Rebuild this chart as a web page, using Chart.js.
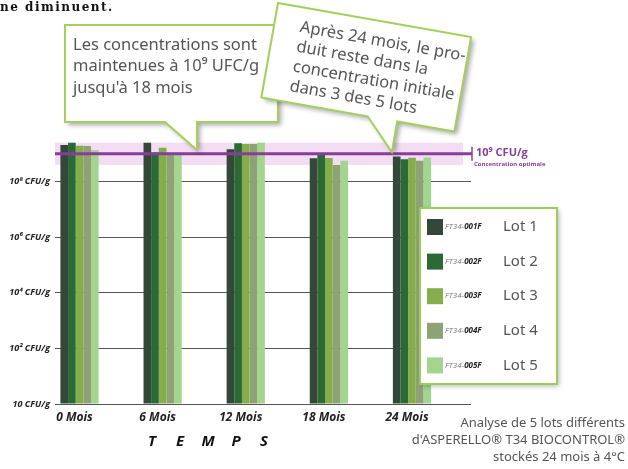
<!DOCTYPE html>
<html>
<head>
<meta charset="utf-8">
<script src="https://cdn.jsdelivr.net/npm/chart.js@4.4.0/dist/chart.umd.min.js"></script>
<style>
  html, body { margin: 0; padding: 0; background: #fff; }
  #wrap { width: 628px; height: 469px; position: relative; }
</style>
</head>
<body>
<div id="wrap"><canvas id="chart"></canvas></div>
<script>
// stability of 5 lots over time, values in log10(CFU/g)
const months = ["0 Mois", "6 Mois", "12 Mois", "18 Mois", "24 Mois"];
const lotNames = ["Lot 1", "Lot 2", "Lot 3", "Lot 4", "Lot 5"];
const lotCodes = ["001F", "002F", "003F", "004F", "005F"];
const lotColors = ["#34483a", "#2b6a34", "#86ad4c", "#8fa276", "#a3d58f"];

const lot1 = [9.32, 9.40, 9.16, 8.84, 8.90];
const lot2 = [9.40, 9.05, 9.38, 9.02, 8.80];
const lot3 = [9.29, 9.22, 9.35, 8.85, 8.86];
const lot4 = [9.28, 9.04, 9.35, 8.60, 8.75];
const lot5 = [9.14, 9.04, 9.40, 8.75, 8.87];

const yTicks = [0, 2, 4, 6, 8];
const yTickLabels = ["10 CFU/g", "10² CFU/g", "10⁴ CFU/g", "10⁶ CFU/g", "10⁸ CFU/g"];

// optimal concentration line (10^9) and its band
const optimum = 9;
const bandLow = 8.6;
const bandHigh = 9.4;

const bubbleFont = "'Noto Sans', sans-serif";

// draws a speech bubble with a tail at the bottom
function drawBubble(ctx, b) {
  ctx.save();
  ctx.translate(b.x, b.y);
  ctx.rotate(b.angle * Math.PI / 180);
  ctx.beginPath();
  ctx.moveTo(0, 0);
  ctx.lineTo(b.w, 0);
  ctx.lineTo(b.w, b.h);
  ctx.lineTo(b.tail[1], b.h);
  ctx.lineTo(b.tail[2], b.tail[3]);
  ctx.lineTo(b.tail[0], b.h);
  ctx.lineTo(0, b.h);
  ctx.closePath();
  ctx.shadowColor = "rgba(0,0,0,0.35)";
  ctx.shadowBlur = 5;
  ctx.shadowOffsetX = 3;
  ctx.shadowOffsetY = 3;
  ctx.fillStyle = "#fff";
  ctx.fill();
  ctx.shadowColor = "transparent";
  ctx.strokeStyle = "#a5cf5b";
  ctx.lineWidth = 2;
  ctx.stroke();
  ctx.fillStyle = "#555";
  ctx.font = "16.5px " + bubbleFont;
  ctx.textBaseline = "middle";
  ctx.textAlign = "left";
  b.lines.forEach((line, i) => {
    ctx.fillText(line, b.tx, b.ty + i * b.lh);
  });
  ctx.restore();
}

const extrasPlugin = {
  id: "extras",
  beforeDatasetsDraw(chart) {
    const ctx = chart.ctx;
    const y = chart.scales.y;
    const area = chart.chartArea;
    ctx.save();
    ctx.fillStyle = "rgba(226, 180, 226, 0.45)";
    const top = y.getPixelForValue(bandHigh);
    const bot = y.getPixelForValue(bandLow);
    ctx.fillRect(area.left, top, area.right - 8 - area.left, bot - top);
    ctx.restore();
  },
  afterDatasetsDraw(chart) {
    const ctx = chart.ctx;
    const y = chart.scales.y;
    const area = chart.chartArea;
    const py = y.getPixelForValue(optimum);
    ctx.save();
    // purple optimum line
    ctx.strokeStyle = "#8a3c9c";
    ctx.lineWidth = 3;
    ctx.beginPath();
    ctx.moveTo(area.left, py);
    ctx.lineTo(area.right + 1, py);
    ctx.stroke();
    ctx.lineWidth = 1.5;
    ctx.beginPath();
    ctx.moveTo(area.right + 1, py - 7);
    ctx.lineTo(area.right + 1, py + 7);
    ctx.stroke();
    ctx.fillStyle = "#8a3c9c";
    ctx.textBaseline = "middle";
    ctx.font = "bold 11px 'Open Sans', sans-serif";
    ctx.fillText("10⁹ CFU/g", area.right + 5, py - 1);
    ctx.font = "bold 6px 'Open Sans', sans-serif";
    ctx.fillText("Concentration optimale", area.right + 3, py + 10);
    ctx.restore();
  },
  afterDraw(chart) {
    const ctx = chart.ctx;
    ctx.save();

    // heading fragment at the top
    ctx.fillStyle = "#111";
    ctx.font = "bold 12px 'DejaVu Serif', serif";
    ctx.textBaseline = "middle";
    ctx.letterSpacing = "1.5px";
    ctx.fillText("ne diminuent.", 0, 8);
    ctx.letterSpacing = "0px";

    // axis title spaced letters
    ctx.font = "bold italic 15px 'Open Sans', sans-serif";
    ctx.textAlign = "center";
    ctx.fillStyle = "#111";
    "TEMPS".split("").forEach((ch, i) => {
      ctx.fillText(ch, 152 + i * 28, 442);
    });

    // footnote at bottom right
    ctx.textAlign = "right";
    ctx.fillStyle = "#555";
    ctx.font = "13px " + bubbleFont;
    ctx.fillText("Analyse de 5 lots différents", 625, 423);
    ctx.fillText("d'ASPERELLO® T34 BIOCONTROL®", 625, 440);
    ctx.fillText("stockés 24 mois à 4°C", 625, 457);

    // legend box
    const lx = 420, ly = 208, lw = 137, lh = 176;
    ctx.shadowColor = "rgba(0,0,0,0.3)";
    ctx.shadowBlur = 5;
    ctx.shadowOffsetX = 2;
    ctx.shadowOffsetY = 2;
    ctx.fillStyle = "#fff";
    ctx.fillRect(lx, ly, lw, lh);
    ctx.shadowColor = "transparent";
    ctx.strokeStyle = "#9ccd5a";
    ctx.lineWidth = 2;
    ctx.strokeRect(lx, ly, lw, lh);
    ctx.textAlign = "left";
    lotNames.forEach((name, i) => {
      const cy = 227 + i * 34.6;
      ctx.fillStyle = lotColors[i];
      ctx.fillRect(427, cy - 8, 16, 16);
      ctx.fillStyle = "#777";
      ctx.font = "italic 8px 'Open Sans', sans-serif";
      ctx.fillText("FT34-", 445, cy);
      const w = ctx.measureText("FT34-").width;
      ctx.fillStyle = "#222";
      ctx.font = "bold italic 8px 'Open Sans', sans-serif";
      ctx.fillText(lotCodes[i], 445 + w, cy);
      ctx.fillStyle = "#555";
      ctx.font = "15px " + bubbleFont;
      ctx.fillText(name, 503, cy);
    });
    ctx.restore();

    // callouts
    drawBubble(ctx, {
      x: 65, y: 25, w: 213, h: 97, angle: 0,
      tail: [100, 132, 132, 125],
      tx: 8, ty: 20, lh: 21.5,
      lines: ["Les concentrations sont", "maintenues à 10⁹ UFC/g", "jusqu'à 18 mois"]
    });
    drawBubble(ctx, {
      x: 278, y: 3, w: 196, h: 96, angle: 10,
      tail: [108, 138, 138, 127],
      tx: 26, ty: 20, lh: 20,
      lines: ["Après 24 mois, le pro-", "duit reste dans la", "concentration initiale", "dans 3 des 5 lots"]
    });
  }
};

const datasets = [lot1, lot2, lot3, lot4, lot5].map((values, i) => ({
  label: lotNames[i],
  data: values.map((v, j) => ({ x: j, y: v })),
  backgroundColor: lotColors[i],
  borderWidth: 0,
  barPercentage: 1,
  categoryPercentage: 0.46
}));

new Chart(document.getElementById("chart"), {
  type: "bar",
  data: { datasets: datasets },
  plugins: [extrasPlugin],
  options: {
    responsive: true,
    maintainAspectRatio: false,
    animation: false,
    devicePixelRatio: 1,
    layout: { padding: { left: 0, top: 126, right: 157, bottom: 35 } },
    plugins: { legend: { display: false }, tooltip: { enabled: false } },
    scales: {
      x: {
        type: "linear",
        offset: false,
        min: -0.295,
        max: 4.71,
        afterBuildTicks: (axis) => { axis.ticks = months.map((_, i) => ({ value: i })); },
        afterFit: (axis) => { axis.height = 30; },
        grid: { display: false, drawTicks: false, offset: false },
        border: { display: false },
        ticks: {
          padding: 6,
          labelOffset: -5,
          color: "#222",
          font: { family: "'Open Sans', sans-serif", size: 12, weight: "bold", style: "italic" },
          callback: (value) => months[value]
        }
      },
      y: {
        min: 0,
        max: 10,
        afterBuildTicks: (axis) => { axis.ticks = yTicks.map((v) => ({ value: v })); },
        afterFit: (axis) => { axis.width = 55; },
        grid: { color: "#555", lineWidth: 1, drawTicks: false },
        border: { display: false },
        ticks: {
          padding: 5,
          color: "#222",
          font: { family: "'Open Sans', sans-serif", size: 9, weight: "bold", style: "italic" },
          callback: (value) => yTickLabels[yTicks.indexOf(value)]
        }
      }
    }
  }
});
</script>
</body>
</html>
